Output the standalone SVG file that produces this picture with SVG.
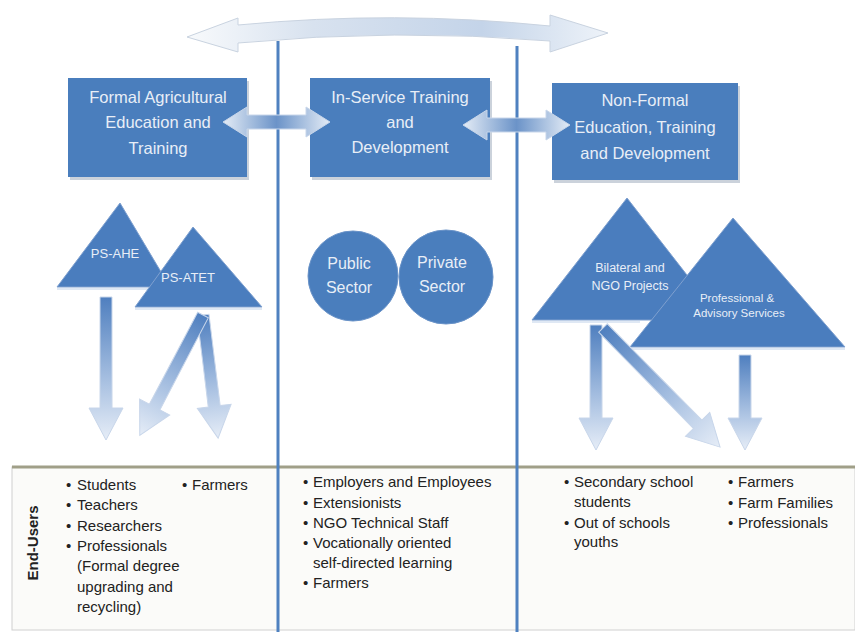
<svg xmlns="http://www.w3.org/2000/svg" width="855" height="632" viewBox="0 0 855 632">
<style>
.box{fill:#4a7ebd}
.shadow{fill:#8c9bb0;opacity:0.45}
.tri{fill:#4a7dbe;stroke:#7fa0cf;stroke-width:1}
.base{stroke:#dfe8f4;stroke-width:2}
.circ{fill:#4a7ebd;stroke:#6a93c8;stroke-width:1}
.bt{font-family:"Liberation Sans",Arial,sans-serif;font-size:16.5px;fill:#e8eef7;text-anchor:middle}
.st{font-family:"Liberation Sans",Arial,sans-serif;font-size:12.5px;fill:#e8eef7;text-anchor:middle}
.ct{font-family:"Liberation Sans",Arial,sans-serif;font-size:16px;fill:#e8eef7;text-anchor:middle}
.lt{font-family:"Liberation Sans",Arial,sans-serif;font-size:15px;fill:#222}
.vline{stroke:#4f81c0;stroke-width:3}
.down{fill:url(#gDown);stroke:#c8d6ea;stroke-width:1}
.dbl{fill:url(#gH);stroke:#c8d6ea;stroke-width:1}
</style>
<defs>
<linearGradient id="gDown" x1="0" y1="0" x2="0" y2="1">
<stop offset="0" stop-color="#4f7fbf"/>
<stop offset="0.55" stop-color="#a2bcdf"/>
<stop offset="1" stop-color="#e6edf7"/>
</linearGradient>
<linearGradient id="gH" x1="0" y1="0" x2="1" y2="0">
<stop offset="0" stop-color="#e4ecf6"/>
<stop offset="0.5" stop-color="#6b93c8"/>
<stop offset="1" stop-color="#e4ecf6"/>
</linearGradient>
<linearGradient id="gTop" x1="0" y1="0" x2="1" y2="0">
<stop offset="0" stop-color="#f8fafc"/>
<stop offset="0.3" stop-color="#d8e2ef"/>
<stop offset="0.7" stop-color="#c4d4e9"/>
<stop offset="1" stop-color="#eef3f9"/>
</linearGradient>
</defs>
<rect width="855" height="632" fill="#ffffff"/>

<g id="table">
<rect x="12" y="467" width="843" height="163" fill="#fbfbf9" stroke="#d0d0d0" stroke-width="1"/>
<line x1="12" y1="467" x2="855" y2="467" stroke="#a09f88" stroke-width="3"/>
</g>

<g id="dividers">
<line class="vline" x1="278" y1="41" x2="278" y2="632"/>
<line class="vline" x1="517" y1="46" x2="517" y2="632"/>
</g>

<g id="top-arrow">
<path d="M187,37 L238,18 L238,25 Q395,10 550,26 L550,15 L608,33 L550,52 L550,41 Q395,28 238,43 L238,52 Z" fill="url(#gTop)" stroke="#c9d3e0" stroke-width="1"/>
</g>

<g id="box-formal">
<rect class="shadow" x="70" y="81" width="179" height="99"/>
<rect class="box" x="68" y="78" width="179" height="99"/>
<text class="bt" x="158" y="103">Formal Agricultural</text>
<text class="bt" x="158" y="128">Education and</text>
<text class="bt" x="158" y="154">Training</text>
</g>
<g id="box-inservice">
<rect class="shadow" x="312" y="81" width="180" height="99"/>
<rect class="box" x="310" y="78" width="180" height="99"/>
<text class="bt" x="400" y="103">In-Service Training</text>
<text class="bt" x="400" y="128">and</text>
<text class="bt" x="400" y="153">Development</text>
</g>
<g id="box-nonformal">
<rect class="shadow" x="554" y="86" width="186" height="97"/>
<rect class="box" x="552" y="83" width="186" height="97"/>
<text class="bt" x="645" y="106">Non-Formal</text>
<text class="bt" x="645" y="133">Education, Training</text>
<text class="bt" x="645" y="159">and Development</text>
</g>

<g id="tri-psahe">
<polygon class="tri" points="120,203 57,287 170,287"/>
<line class="base" x1="57" y1="289" x2="170" y2="289"/>
<text class="st" x="115" y="258" style="font-size:13px">PS-AHE</text>
</g>
<g id="tri-psatet">
<polygon class="tri" points="193,227 135,307 262,307" stroke="#dfe8f4"/>
<line class="base" x1="135" y1="309" x2="262" y2="309"/>
<text class="st" x="188" y="282" style="font-size:13px">PS-ATET</text>
</g>

<g id="circle-public">
<circle class="circ" cx="353" cy="276" r="45"/>
<text class="ct" x="349" y="269">Public</text>
<text class="ct" x="349" y="293">Sector</text>
</g>
<g id="circle-private">
<circle class="circ" cx="446" cy="277" r="47"/>
<text class="ct" x="442" y="268">Private</text>
<text class="ct" x="442" y="292">Sector</text>
</g>

<g id="tri-bilateral">
<polygon class="tri" points="627,198 532,320 722,320"/>
<line class="base" x1="532" y1="322" x2="640" y2="322"/>
<text class="st" x="630" y="272">Bilateral and</text>
<text class="st" x="630" y="290">NGO Projects</text>
</g>
<g id="tri-professional">
<polygon class="tri" points="733,218 630,347 845,347" stroke="#dfe8f4" stroke-width="1.5"/>
<line class="base" x1="630" y1="349" x2="845" y2="349"/>
<text class="st" x="737" y="302" style="font-size:11.5px">Professional &amp;</text>
<text class="st" x="739" y="317" style="font-size:11.5px">Advisory Services</text>
</g>

<g id="connectors">
<path class="dbl" d="M223,122 L247,107 L247,115 L306,115 L306,107 L330,122 L306,137 L306,129 L247,129 L247,137 Z"/>
<path class="dbl" d="M463,125 L487,110 L487,118 L546,118 L546,110 L570,125 L546,140 L546,132 L487,132 L487,140 Z"/>
<path class="down" transform="translate(106,297)" d="M-6,0 H6 V111 H17 L0,143 L-17,111 H-6 Z"/>
<path class="down" transform="translate(203,315) rotate(-7)" d="M-6,0 H6 V92 H17 L0,124 L-17,92 H-6 Z"/>
<path class="down" transform="translate(203,315) rotate(27.7)" d="M-6,0 H6 V104 H17 L0,136 L-17,104 H-6 Z"/>
<path class="down" transform="translate(596,325)" d="M-6,0 H6 V93 H17 L0,125 L-17,93 H-6 Z"/>
<path class="down" transform="translate(603,328) rotate(-44.5)" d="M-6,0 H6 V135 H17 L0,167 L-17,135 H-6 Z"/>
<path class="down" transform="translate(745,355)" d="M-6,0 H6 V63 H17 L0,95 L-17,63 H-6 Z"/>
</g>

<g id="end-users-label">
<text transform="translate(38,543) rotate(-90)" style="font-family:'Liberation Sans',Arial,sans-serif;font-size:15px;font-weight:bold;fill:#222;text-anchor:middle">End-Users</text>
</g>

<g id="col-formal">
<text class="lt" x="66" y="490">•</text><text class="lt" x="77" y="490">Students</text>
<text class="lt" x="66" y="510">•</text><text class="lt" x="77" y="510">Teachers</text>
<text class="lt" x="66" y="531">•</text><text class="lt" x="77" y="531">Researchers</text>
<text class="lt" x="66" y="551">•</text><text class="lt" x="77" y="551">Professionals</text>
<text class="lt" x="77" y="571">(Formal degree</text>
<text class="lt" x="77" y="592">upgrading and</text>
<text class="lt" x="77" y="612">recycling)</text>
<text class="lt" x="182" y="490">•</text><text class="lt" x="192" y="490">Farmers</text>
</g>

<g id="col-inservice">
<text class="lt" x="303" y="487">•</text><text class="lt" x="313" y="487">Employers and Employees</text>
<text class="lt" x="303" y="508">•</text><text class="lt" x="313" y="508">Extensionists</text>
<text class="lt" x="303" y="528">•</text><text class="lt" x="313" y="528">NGO Technical Staff</text>
<text class="lt" x="303" y="548">•</text><text class="lt" x="313" y="548">Vocationally oriented</text>
<text class="lt" x="313" y="568">self-directed learning</text>
<text class="lt" x="303" y="588">•</text><text class="lt" x="313" y="588">Farmers</text>
</g>

<g id="col-nonformal">
<text class="lt" x="564" y="487">•</text><text class="lt" x="574" y="487">Secondary school</text>
<text class="lt" x="574" y="507">students</text>
<text class="lt" x="564" y="528">•</text><text class="lt" x="574" y="528">Out of schools</text>
<text class="lt" x="574" y="547">youths</text>
<text class="lt" x="728" y="487">•</text><text class="lt" x="738" y="487">Farmers</text>
<text class="lt" x="728" y="508">•</text><text class="lt" x="738" y="508">Farm Families</text>
<text class="lt" x="728" y="528">•</text><text class="lt" x="738" y="528">Professionals</text>
</g>
</svg>
